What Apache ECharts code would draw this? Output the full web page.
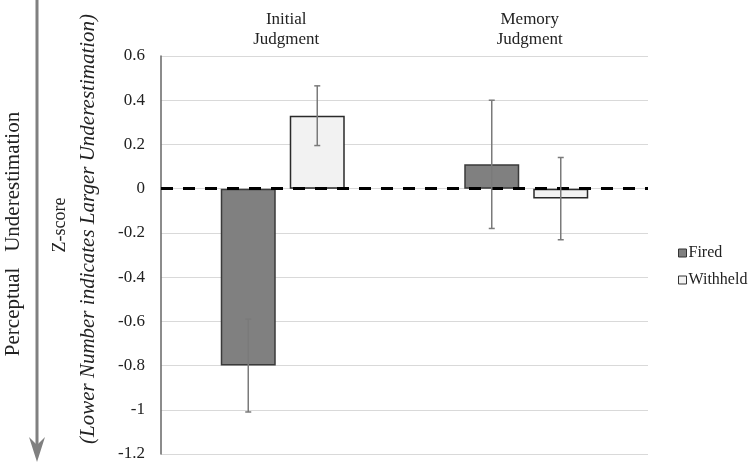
<!DOCTYPE html>
<html>
<head>
<meta charset="utf-8">
<script src="https://cdn.jsdelivr.net/npm/echarts@6/dist/echarts.min.js"></script>
<style>
html,body{margin:0;padding:0;background:#fff;}
#chart{width:749px;height:463px;}
</style>
</head>
<body>
<div id="chart"></div>
<script>
var categories = ['Initial\nJudgment', 'Memory\nJudgment'];
var seriesNames = ['Fired', 'Withheld'];
var firedValues = [-0.80, 0.11];
var withheldValues = [0.33, -0.045];
var firedErrors = [0.21, 0.29];
var withheldErrors = [0.135, 0.186];
var yTicks = {min: -1.2, max: 0.6, interval: 0.2};

var FONT = '"Liberation Serif", "Times New Roman", serif';
var BAR_W = 55;
var GAP = 14;
var OFF = BAR_W / 2 + GAP / 2;

function errorSeries(name, values, errors, offset) {
  var data = values.map(function (v, i) { return [i, v - errors[i], v + errors[i]]; });
  return {
    type: 'custom',
    name: name + ' error',
    z: 10,
    silent: true,
    encode: {x: 0, y: [1, 2]},
    data: data,
    renderItem: function (params, api) {
      var lo = api.coord([api.value(0), api.value(1)]);
      var hi = api.coord([api.value(0), api.value(2)]);
      var x = lo[0] + offset;
      var cap = 3;
      var style = {stroke: '#7a7a7a', lineWidth: 1.5};
      return {
        type: 'group',
        children: [
          {type: 'line', shape: {x1: x, y1: lo[1], x2: x, y2: hi[1]}, style: style},
          {type: 'line', shape: {x1: x - cap, y1: lo[1], x2: x + cap, y2: lo[1]}, style: style},
          {type: 'line', shape: {x1: x - cap, y1: hi[1], x2: x + cap, y2: hi[1]}, style: style}
        ]
      };
    }
  };
}

var chart = echarts.init(document.getElementById('chart'), null, {renderer: 'canvas'});
chart.setOption({
  backgroundColor: '#ffffff',
  animation: false,
  grid: {left: 161, right: 101, top: 56, bottom: 9, containLabel: false},
  legend: {
    orient: 'vertical',
    left: 673,
    top: 240,
    itemWidth: 8,
    itemHeight: 8,
    itemGap: 11,
    icon: 'rect',
    textStyle: {fontFamily: FONT, fontSize: 16, lineHeight: 16, color: '#222', padding: [0, 0, 0, -3]},
    data: [
      {name: 'Fired', itemStyle: {color: '#808080', borderColor: '#333', borderWidth: 1}},
      {name: 'Withheld', itemStyle: {color: '#f2f2f2', borderColor: '#333', borderWidth: 1}}
    ]
  },
  xAxis: {
    type: 'category',
    data: categories,
    position: 'top',
    axisLine: {show: false, onZero: false},
    axisTick: {show: false},
    axisLabel: {fontFamily: FONT, fontSize: 17, color: '#222', margin: 6, lineHeight: 20, padding: [0, 0, 0, 7]},
    splitLine: {show: false}
  },
  yAxis: {
    type: 'value',
    min: yTicks.min,
    max: yTicks.max,
    interval: yTicks.interval,
    axisLine: {show: true, lineStyle: {color: '#666', width: 1.5}},
    axisTick: {show: false},
    axisLabel: {fontFamily: FONT, fontSize: 17, color: '#222', margin: 16,
      formatter: function (v) { return String(Math.round(v * 10) / 10); }},
    splitLine: {show: true, lineStyle: {color: '#d9d9d9', width: 1.2}}
  },
  series: [
    {
      name: 'Fired',
      type: 'bar',
      barWidth: BAR_W,
      barGap: (GAP / BAR_W * 100) + '%',
      data: firedValues,
      itemStyle: {color: '#808080', borderColor: '#3a3a3a', borderWidth: 1.5},
      markLine: {
        silent: true,
        symbol: ['none', 'none'],
        label: {show: false},
        z: 8,
        lineStyle: {color: '#000', width: 3, type: [12, 10]},
        data: [{yAxis: 0}]
      }
    },
    {
      name: 'Withheld',
      type: 'bar',
      barWidth: BAR_W,
      data: withheldValues,
      itemStyle: {color: '#f2f2f2', borderColor: '#2a2a2a', borderWidth: 1.5}
    },
    errorSeries('Fired', firedValues, firedErrors, -OFF),
    errorSeries('Withheld', withheldValues, withheldErrors, OFF)
  ],
  graphic: [
    {type: 'line', shape: {x1: 37, y1: 0, x2: 37, y2: 446}, style: {stroke: '#808080', lineWidth: 3}},
    {type: 'polygon', shape: {points: [[29, 437], [37, 445], [45, 437], [37, 462]]}, style: {fill: '#808080'}},
    {type: 'text', x: 13, y: 234, rotation: Math.PI / 2,
      style: {text: 'Perceptual   Underestimation', font: '21px ' + FONT, fill: '#222', align: 'center', verticalAlign: 'middle'}},
    {type: 'text', x: 60, y: 225, rotation: Math.PI / 2,
      style: {text: 'Z-score', font: '18px ' + FONT, fill: '#222', align: 'center', verticalAlign: 'middle'}},
    {type: 'text', x: 88, y: 229, rotation: Math.PI / 2,
      style: {text: '(Lower Number indicates Larger Underestimation)', font: 'italic 21px ' + FONT, fill: '#222', align: 'center', verticalAlign: 'middle'}}
  ]
});
</script>
</body>
</html>
